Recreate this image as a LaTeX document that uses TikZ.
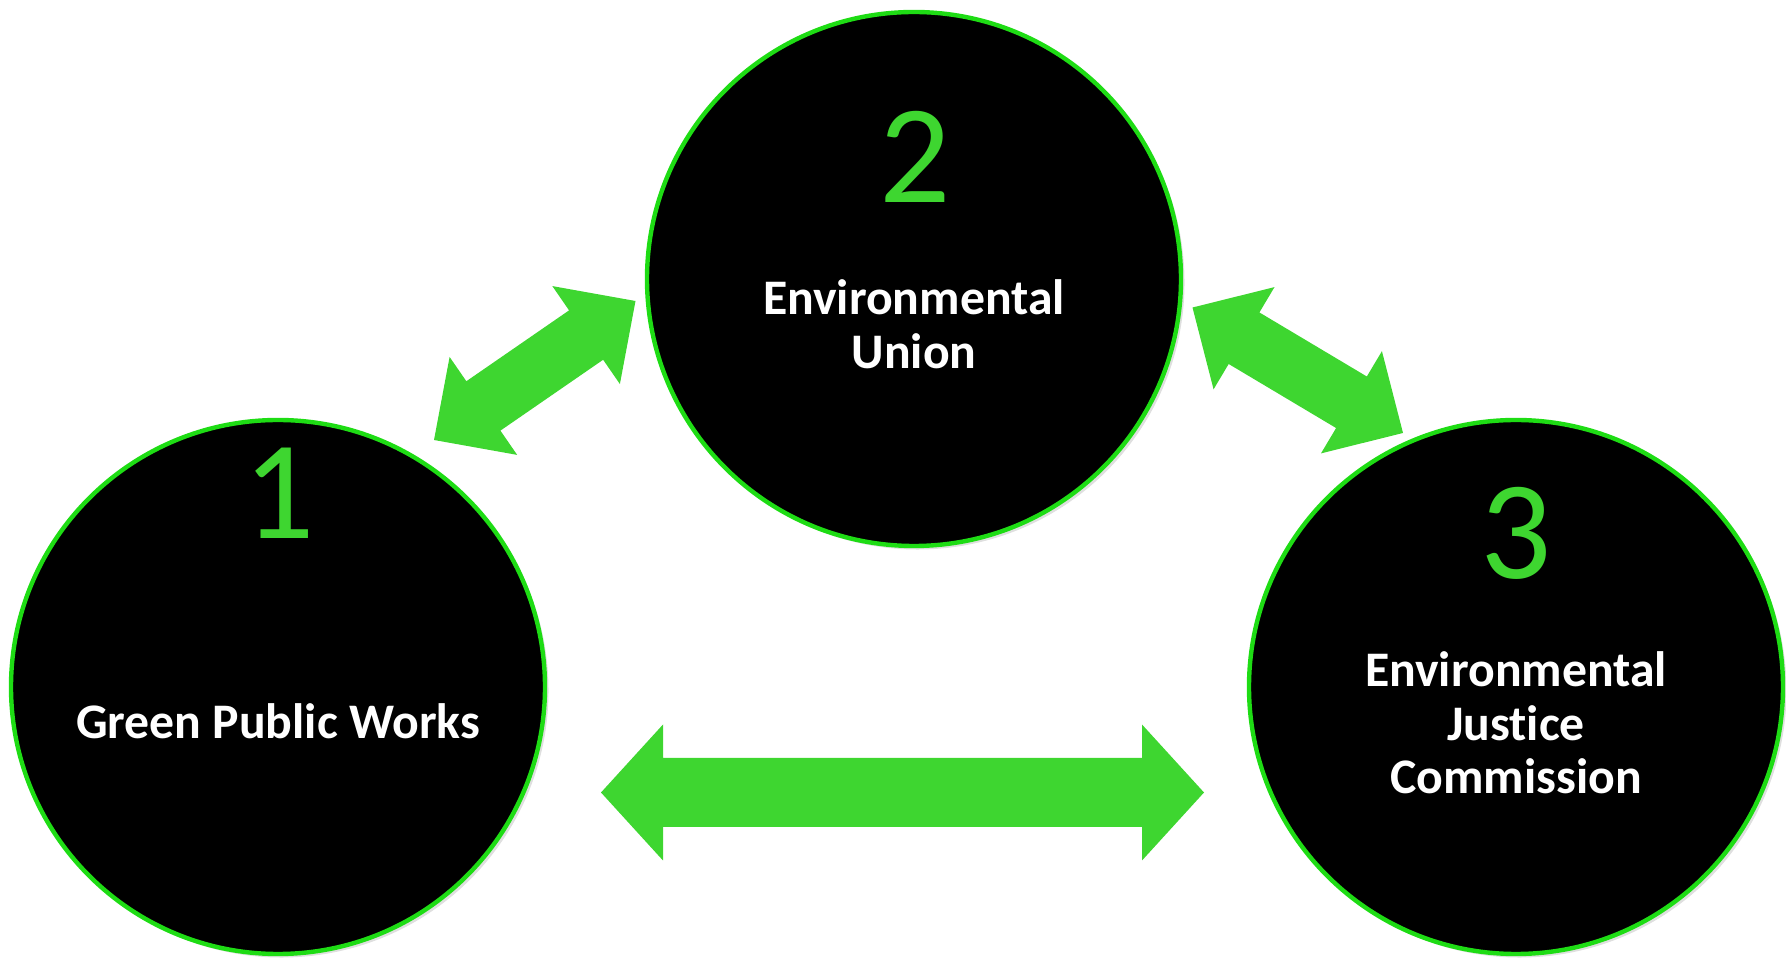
\documentclass[tikz,border=0pt]{standalone}
\usepackage{fontspec}
\setmainfont{Carlito}[Ligatures=NoCommon]
\usetikzlibrary{calc,shadows}

\definecolor{ringgreen}{RGB}{30,220,20}
\definecolor{arrowgreen}{RGB}{62,214,48}

\tikzset{
  club/.style={circle, fill=black, draw=ringgreen, line width=2.5pt, minimum size=10.68cm, inner sep=0pt,
    drop shadow={shadow xshift=2pt, shadow yshift=-2pt, opacity=0.25}},
  clubnum/.style={text=arrowgreen, inner sep=0pt, font=\fontsize{80}{80}\selectfont},
  clubname/.style={text=white, align=center, inner sep=0pt, font=\fontsize{28.3}{30.5}\selectfont\bfseries},
  % block arrow with two heads: head length, half head width, half shaft width
  twoway/.style n args={3}{fill=arrowgreen, to path={
      -- ($(\tikztostart)!#1!(\tikztotarget)!#2!-90:(\tikztotarget)$)
      -- ($(\tikztostart)!#1!(\tikztotarget)!#3!-90:(\tikztotarget)$)
      -- ($(\tikztotarget)!#1!(\tikztostart)!#3!90:(\tikztostart)$)
      -- ($(\tikztotarget)!#1!(\tikztostart)!#2!90:(\tikztostart)$)
      -- (\tikztotarget)
      -- ($(\tikztotarget)!#1!(\tikztostart)!#2!-90:(\tikztostart)$)
      -- ($(\tikztotarget)!#1!(\tikztostart)!#3!-90:(\tikztostart)$)
      -- ($(\tikztostart)!#1!(\tikztotarget)!#3!90:(\tikztotarget)$)
      -- ($(\tikztostart)!#1!(\tikztotarget)!#2!90:(\tikztotarget)$)
      -- cycle}}
}

\begin{document}
\begin{tikzpicture}
  \useasboundingbox (0,0) rectangle (35.72,19.22);

  % the three circles
  \node[club] (gpw) at (5.56, 5.48) {};
  \node[club] (union) at (18.28, 13.64) {};
  \node[club] (ejc) at (30.32, 5.48) {};

  \node[clubnum] (num1) at (5.58, 9.35) {1};
  \node[clubnum] (num2) at (18.30, 16.08) {2};
  \node[clubnum] (num3) at (30.32, 8.55) {3};

  \node[clubname] (name1) at (5.56, 4.80) {Green Public Works};
  \node[clubname] (name2) at (18.28, 12.74) {Environmental\\Union};
  \node[clubname] (name3) at (30.32, 4.76) {Environmental\\Justice\\Commission};

  % arrow ends
  \coordinate (tip1a) at (8.68, 10.42);
  \coordinate (tip1b) at (12.71, 13.20);
  \coordinate (tip2a) at (23.85, 13.07);
  \coordinate (tip2b) at (28.06, 10.56);
  \coordinate (tip3a) at (12.02, 3.37);
  \coordinate (tip3b) at (24.08, 3.37);

  \path[twoway={1.2cm}{1.19cm}{0.6cm}] (tip1a) to (tip1b);
  \path[twoway={1.2cm}{1.19cm}{0.6cm}] (tip2a) to (tip2b);
  \path[twoway={1.24cm}{1.36cm}{0.69cm}] (tip3a) to (tip3b);
\end{tikzpicture}
\end{document}
